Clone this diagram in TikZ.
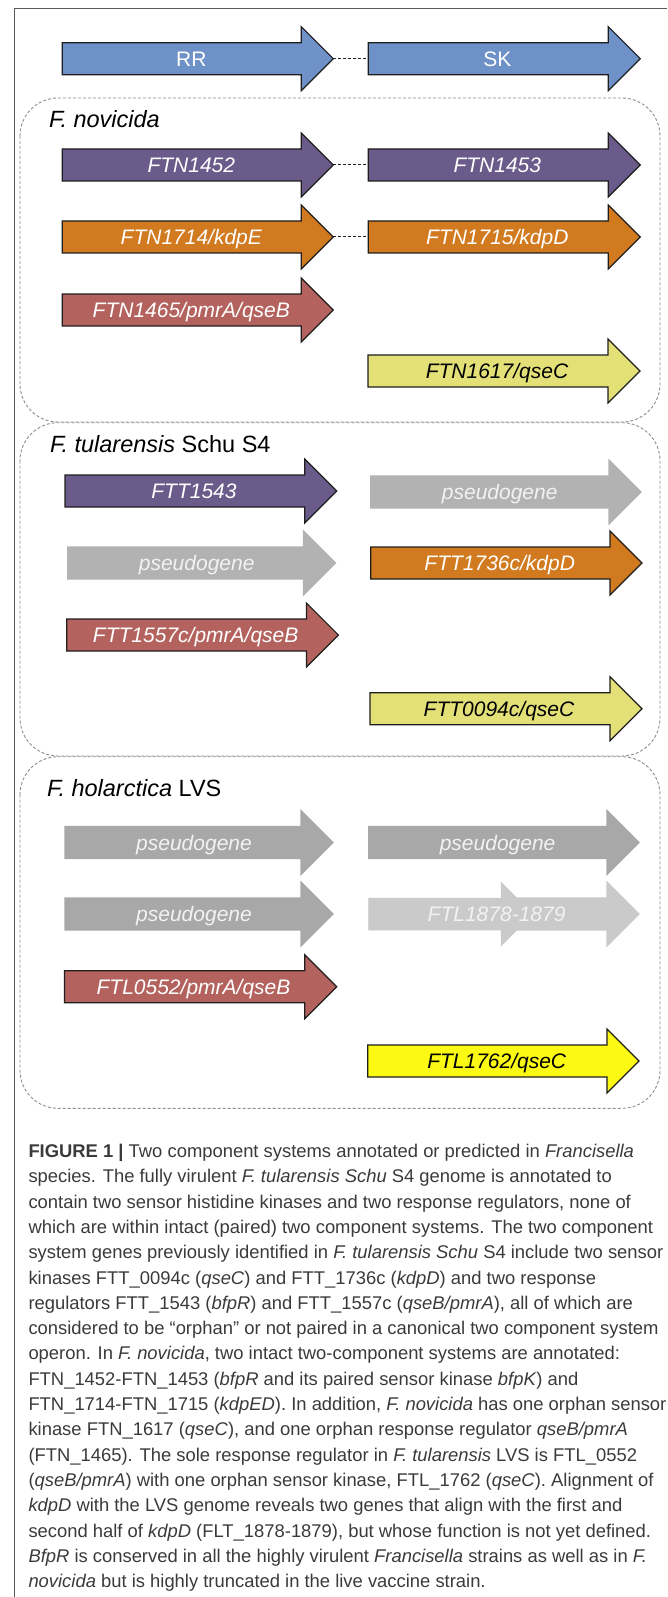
\documentclass[tikz,border=0pt]{standalone}
\usepackage{fontspec}
\setmainfont{Liberation Sans}
\definecolor{blueA}{RGB}{110,145,200}
\definecolor{purpleA}{RGB}{106,91,138}
\definecolor{orangeA}{RGB}{210,122,31}
\definecolor{redA}{RGB}{180,98,94}
\definecolor{yellowA}{RGB}{228,224,120}
\definecolor{yellowB}{RGB}{252,250,20}
\definecolor{grayS}{RGB}{178,178,178}
\definecolor{grayL}{RGB}{168,168,168}
\definecolor{grayLL}{RGB}{202,202,202}
\definecolor{outl}{RGB}{30,30,30}
\definecolor{boxc}{RGB}{140,140,140}
\definecolor{framec}{RGB}{90,90,90}
\definecolor{captc}{RGB}{58,58,58}
\definecolor{pseudotext}{RGB}{242,242,242}
\tikzset{
  genelabel/.style={inner sep=0pt, anchor=base, font=\fontsize{21}{21}\selectfont\itshape},
  titlelabel/.style={inner sep=0pt, anchor=base west, font=\fontsize{23.5}{24}\selectfont},
  captline/.style={inner sep=0pt, anchor=base west, text=captc, font=\fontsize{18.4}{20}\selectfont},
  speciesbox/.style={draw=boxc, line width=0.9pt, dash pattern=on 3pt off 2pt, rounded corners=38pt},
  pairlink/.style={draw=outl, line width=1pt, dash pattern=on 3pt off 2pt},
  framestyle/.style={draw=framec, line width=1pt}
}
% #1 name, #2 left x, #3 tip x, #4 centre y, #5 fill, #6 outline, #7 text colour, #8 label
\newcommand\genearrow[8]{%
  \draw[fill=#5, draw=#6, line width=1.2pt, line join=miter]
    (#2,#4-16) -- (#2,#4+16) -- (#3-32,#4+16) -- (#3-32,#4+32) -- (#3,#4)
    -- (#3-32,#4-32) -- (#3-32,#4-16) -- cycle;
  \coordinate (#1-tail) at (#2,#4);
  \coordinate (#1-tip) at (#3,#4);
  \node[genelabel, text=#7] (#1) at (#2+129,#4+7.5) {#8};
}
\begin{document}
\begin{tikzpicture}[x=1pt, y=-1pt]
\useasboundingbox (0,0) rectangle (667,1597);
% frame
\draw[framestyle] (14,1597) -- (14,8.3) -- (667,8.3);
% species boxes
\draw[speciesbox] (20,98) rectangle (660,422);
\draw[speciesbox] (20,422.7) rectangle (660,756);
\draw[speciesbox] (20,756.7) rectangle (660,1108.3);
% legend row
\genearrow{rr}{62.3}{333.3}{58.7}{blueA}{outl}{white}{\upshape RR}
\genearrow{sk}{368.3}{640.3}{58.7}{blueA}{outl}{white}{\upshape SK}
\draw[pairlink] (rr-tip) -- (sk-tail);
% F. novicida
\node[titlelabel] (tnov) at (49,127.7) {\itshape F. novicida};
\genearrow{ftn1452}{62.3}{333.3}{165}{purpleA}{outl}{white}{FTN1452}
\genearrow{ftn1453}{368.3}{640.3}{165}{purpleA}{outl}{white}{FTN1453}
\draw[pairlink] (ftn1452-tip) -- (ftn1453-tail);
\genearrow{ftn1714}{62.3}{333.3}{237}{orangeA}{outl}{white}{FTN1714/kdpE}
\genearrow{ftn1715}{368.3}{640.3}{237}{orangeA}{outl}{white}{FTN1715/kdpD}
\draw[pairlink] (ftn1714-tip) -- (ftn1715-tail);
\genearrow{ftn1465}{62.3}{333.3}{310}{redA}{outl}{white}{FTN1465/pmrA/qseB}
\genearrow{ftn1617}{368}{640}{371}{yellowA}{outl}{black}{FTN1617/qseC}
% F. tularensis Schu S4
\node[titlelabel] (ttul) at (50,452.7) {\itshape F. tularensis \upshape Schu S4};
\genearrow{ftt1543}{65}{336.7}{491}{purpleA}{outl}{white}{FTT1543}
\genearrow{pseudoa}{370.7}{641}{492}{grayS}{grayS}{pseudotext}{pseudogene}
\genearrow{pseudob}{67.7}{335.5}{563}{grayS}{grayS}{pseudotext}{pseudogene}
\genearrow{ftt1736}{370.7}{642}{563}{orangeA}{outl}{white}{FTT1736c/kdpD}
\genearrow{ftt1557}{66.7}{338.4}{635}{redA}{outl}{white}{FTT1557c/pmrA/qseB}
\genearrow{ftt0094}{370}{642}{708.7}{yellowA}{outl}{black}{FTT0094c/qseC}
% F. holarctica LVS
\node[titlelabel] (thol) at (47,796.7) {\itshape F. holarctica \upshape LVS};
\genearrow{pseudoc}{65}{333}{842.5}{grayL}{grayL}{pseudotext}{pseudogene}
\genearrow{pseudod}{368.6}{639}{842.5}{grayL}{grayL}{pseudotext}{pseudogene}
\genearrow{pseudoe}{65}{333}{914}{grayL}{grayL}{pseudotext}{pseudogene}
\draw[fill=grayLL, draw=grayLL, line width=0.5pt]
  (368.6,914-16) -- (501,914-16) -- (501,914-32) -- (533,914) -- (501,914+32) -- (501,914+16) -- (368.6,914+16) -- cycle;
\genearrow{ftl1878}{510}{639}{914}{grayLL}{grayLL}{pseudotext}{}
\node[genelabel, text=pseudotext] (ftl1878lab) at (496.6,921.5) {FTL1878-1879};
\genearrow{ftl0552}{64.5}{336.7}{986.7}{redA}{outl}{white}{FTL0552/pmrA/qseB}
\genearrow{ftl1762}{367.7}{639}{1061}{yellowB}{outl}{black}{FTL1762/qseC}
% caption
\node[captline] (c1) at (28.3,1157.3) {\textbf{FIGURE 1 |} Two component systems annotated or predicted in \textit{Francisella}};
\node[captline] (c2) at (28.3,1182.6) {species. The fully virulent \textit{F. tularensis Schu} S4 genome is annotated to};
\node[captline] (c3) at (28.3,1208.0) {contain two sensor histidine kinases and two response regulators, none of};
\node[captline] (c4) at (28.3,1233.3) {which are within intact (paired) two component systems. The two component};
\node[captline] (c5) at (28.3,1258.6) {system genes previously identified in \textit{F. tularensis Schu} S4 include two sensor};
\node[captline] (c6) at (28.3,1284.0) {kinases FTT\_0094c (\textit{qseC}) and FTT\_1736c (\textit{kdpD}) and two response};
\node[captline] (c7) at (28.3,1309.3) {regulators FTT\_1543 (\textit{bfpR}) and FTT\_1557c (\textit{qseB/pmrA}), all of which are};
\node[captline] (c8) at (28.3,1334.6) {considered to be “orphan” or not paired in a canonical two component system};
\node[captline] (c9) at (28.3,1359.9) {operon. In \textit{F. novicida}, two intact two-component systems are annotated:};
\node[captline] (c10) at (28.3,1385.3) {FTN\_1452-FTN\_1453 (\textit{bfpR} and its paired sensor kinase \textit{bfpK}) and};
\node[captline] (c11) at (28.3,1410.6) {FTN\_1714-FTN\_1715 (\textit{kdpED}). In addition, \textit{F. novicida} has one orphan sensor};
\node[captline] (c12) at (28.3,1435.9) {kinase FTN\_1617 (\textit{qseC}), and one orphan response regulator \textit{qseB/pmrA}};
\node[captline] (c13) at (28.3,1461.3) {(FTN\_1465). The sole response regulator in \textit{F. tularensis} LVS is FTL\_0552};
\node[captline] (c14) at (28.3,1486.6) {(\textit{qseB/pmrA}) with one orphan sensor kinase, FTL\_1762 (\textit{qseC}). Alignment of};
\node[captline] (c15) at (28.3,1511.9) {\textit{kdpD} with the LVS genome reveals two genes that align with the first and};
\node[captline] (c16) at (28.3,1537.3) {second half of \textit{kdpD} (FLT\_1878-1879), but whose function is not yet defined.};
\node[captline] (c17) at (28.3,1562.6) {\textit{BfpR} is conserved in all the highly virulent \textit{Francisella} strains as well as in \textit{F.}};
\node[captline] (c18) at (28.3,1587.9) {\textit{novicida} but is highly truncated in the live vaccine strain.};
\end{tikzpicture}
\end{document}
